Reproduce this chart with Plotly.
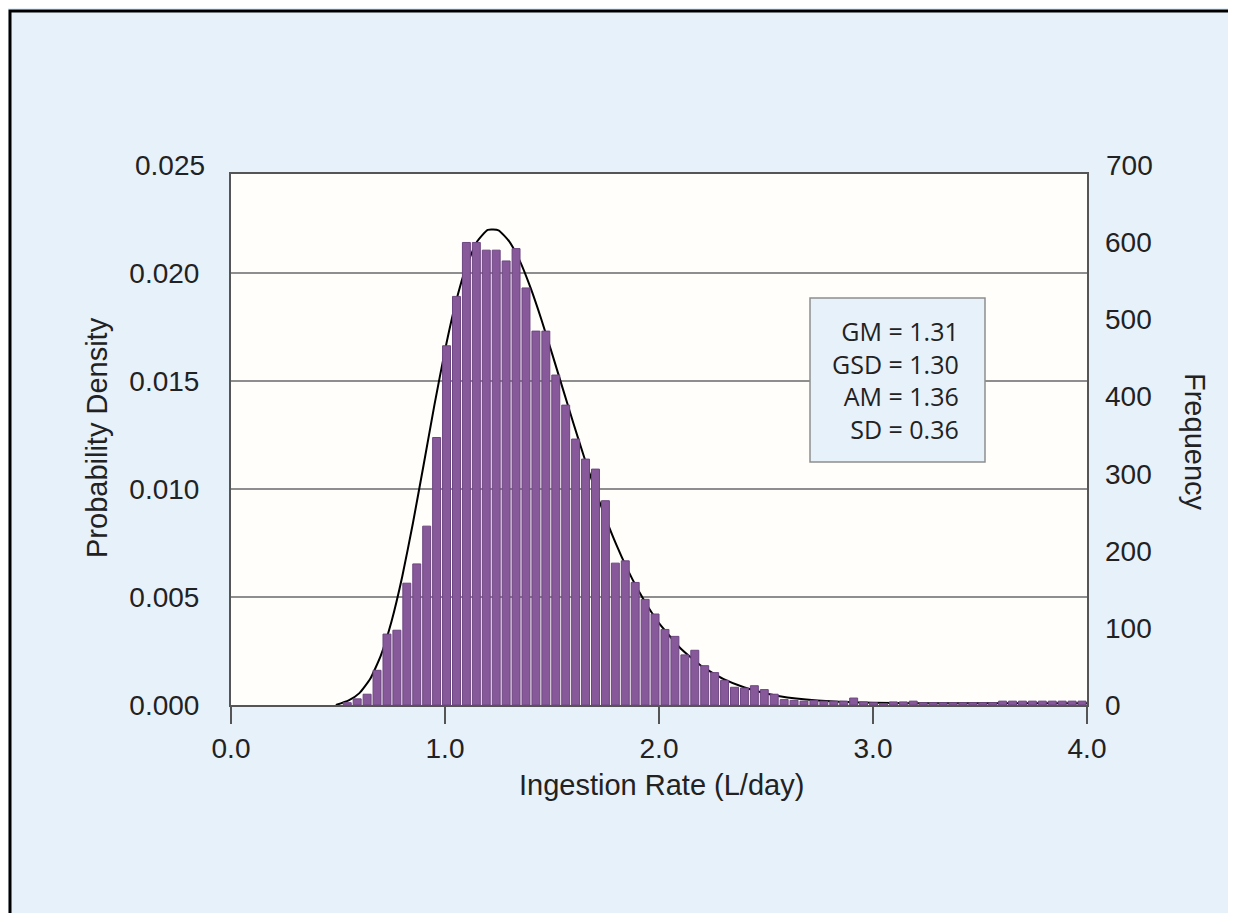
import numpy as np
import plotly.graph_objects as go

# ---- data ----
bin_start = 0.52
bin_width = 0.0464
frequency = [3, 8, 14, 45, 92, 97, 158, 183, 232, 347, 466, 530, 600, 600, 590, 590,
             576, 592, 541, 485, 485, 428, 389, 345, 319, 306, 265, 184, 187, 159,
             137, 118, 98, 89, 65, 71, 51, 42, 32, 23, 22, 25, 20,
             14, 7, 6, 5, 6, 5, 5, 5, 9, 4, 3, 2, 4, 4, 5, 3, 3, 3, 3, 3, 3, 3, 3,
             5, 5, 5, 5, 5, 5, 5, 5, 5]
curve_x = [0.49, 0.55, 0.60, 0.65, 0.70, 0.75, 0.80, 0.85, 0.90, 0.95, 1.00, 1.05,
           1.10, 1.15, 1.20, 1.25, 1.30, 1.35, 1.40, 1.45, 1.50, 1.55, 1.60, 1.65,
           1.70, 1.75, 1.80, 1.85, 1.90, 1.95, 2.00, 2.10, 2.20, 2.30, 2.40, 2.50,
           2.60, 2.80, 3.00, 3.40, 4.00]
curve_y = [0.0, 0.00021, 0.00055, 0.00120, 0.00229, 0.00387, 0.00594, 0.00842,
           0.01112, 0.01387, 0.01643, 0.01863, 0.02033, 0.02147, 0.02201, 0.02199,
           0.02148, 0.02056, 0.01932, 0.01787, 0.01629, 0.01467, 0.01305, 0.01149,
           0.01002, 0.00867, 0.00744, 0.00634, 0.00537, 0.00453, 0.00379, 0.00263,
           0.00179, 0.00121, 0.00081, 0.00053, 0.00035, 0.00017, 0.00010, 0.00008,
           0.00008]
x_ticks = [0, 1, 2, 3, 4]
x_tick_text = ["0.0", "1.0", "2.0", "3.0", "4.0"]
y_ticks = [0.0, 0.005, 0.010, 0.015, 0.020]
y_tick_text = ["0.000", "0.005", "0.010", "0.015", "0.020"]
y2_ticks = [0, 100, 200, 300, 400, 500, 600]
stats_text = "GM = 1.31<br>GSD = 1.30<br>AM = 1.36<br>SD = 0.36"

# ---- layout geometry (screen pixels; page has an 8px body margin) ----
OFF = 8
SW, SH = 1236, 913
L, R, T, B = 231, 1087, 174, 705
ymax = 0.0246
y2max = ymax * 28000

def px_x(px):
    return (px - L) / (R - L)

def px_y(py):
    return (B - py) / (B - T)

centers = bin_start + bin_width * (np.arange(len(frequency)) + 0.5)

FONT = "Liberation Sans, Arial, sans-serif"
TXT = "#222222"
FS = 28
FT = 29

fig = go.Figure()
fig.add_trace(go.Bar(
    x=centers, y=frequency, width=bin_width * 0.8, yaxis="y2",
    marker=dict(color="#87599A", line=dict(color="#6C4680", width=1)),
    showlegend=False,
))
fig.add_trace(go.Scatter(
    x=curve_x, y=curve_y, mode="lines",
    line=dict(color="black", width=2, shape="spline", smoothing=0.5),
    showlegend=False,
))

fig.update_layout(
    width=SW - OFF, height=SH - OFF,
    margin=dict(l=L - OFF, r=SW - R, t=T - OFF, b=SH - B, pad=0),
    paper_bgcolor="#E7F1FA",
    plot_bgcolor="#FFFEFA",
    font=dict(family=FONT, size=FS, color=TXT),
    xaxis=dict(range=[0, 4], tickvals=x_ticks, ticktext=x_tick_text, ticks="outside",
               ticklen=17, tickwidth=2, tickcolor="#555555", showgrid=False,
               showline=True, linecolor="#555555", linewidth=2, mirror=True,
               zeroline=False, tickfont=dict(size=FS, color=TXT)),
    yaxis=dict(range=[0, ymax], tickvals=y_ticks, ticktext=y_tick_text, ticks="",
               showgrid=True, gridcolor="#8E8E8E", gridwidth=1.5,
               showline=True, linecolor="#555555", linewidth=2, mirror=True,
               zeroline=False, ticklabelstandoff=24, tickfont=dict(size=FS, color=TXT)),
    yaxis2=dict(range=[0, y2max], tickvals=y2_ticks, overlaying="y", side="right",
                ticks="", showgrid=False, zeroline=False, showline=False,
                ticklabelstandoff=17, tickfont=dict(size=FS, color=TXT)),
    bargap=0.2,
)

# stats box
fig.add_shape(type="rect", xref="x", yref="y",
              x0=px_x(810) * 4, x1=px_x(985) * 4,
              y0=px_y(462) * ymax, y1=px_y(298) * ymax,
              fillcolor="#E7F1FA", line=dict(color="#8E8E8E", width=1.5), layer="above")
fig.add_annotation(xref="paper", yref="paper", x=px_x(961), y=px_y(380),
                   text=stats_text, showarrow=False, xanchor="right", yanchor="middle",
                   align="right",
                   font=dict(family="Open Sans, Liberation Sans, sans-serif", size=25, color=TXT))

# top tick labels (beyond the framed area)
fig.add_annotation(xref="paper", yref="paper", x=px_x(207), y=0.025 / ymax,
                   text="0.025", showarrow=False, xanchor="right", yanchor="middle",
                   font=dict(size=FS, color=TXT))
fig.add_annotation(xref="paper", yref="paper", x=px_x(1104), y=700 / y2max,
                   text="700", showarrow=False, xanchor="left", yanchor="middle",
                   font=dict(size=FS, color=TXT))

# axis titles
fig.add_annotation(xref="paper", yref="paper", x=px_x(661), y=px_y(785),
                   text="Ingestion Rate (L/day)", showarrow=False, xanchor="center",
                   yanchor="middle", font=dict(size=FT, color=TXT))
fig.add_annotation(xref="paper", yref="paper", x=px_x(97), y=px_y(438),
                   text="Probability Density", showarrow=False, textangle=-90,
                   xanchor="center", yanchor="middle", font=dict(size=FT, color=TXT))
fig.add_annotation(xref="paper", yref="paper", x=px_x(1195), y=px_y(442),
                   text="Frequency", showarrow=False, textangle=90,
                   xanchor="center", yanchor="middle", font=dict(size=FT, color=TXT))

# outer frame
fig.add_shape(type="rect", xref="paper", yref="paper",
              x0=px_x(10), x1=px_x(1250), y0=px_y(930), y1=px_y(11),
              line=dict(color="black", width=3), fillcolor="rgba(0,0,0,0)")

fig.write_html("out.html")
